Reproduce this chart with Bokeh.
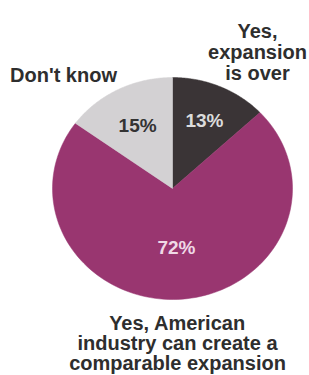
import numpy as np
from bokeh.plotting import figure
from bokeh.models import Range1d, ColumnDataSource
from bokeh.core.properties import value
from bokeh.embed import file_html
from bokeh.resources import INLINE

# ---- data ----
categories = ["Yes, expansion is over",
              "Yes, American industry can create a comparable expansion",
              "Don't know"]
shares = [13, 72, 15]
pct_labels = ["13%", "72%", "15%"]
label_lines = [["Yes,", "expansion", "is over"],
               ["Yes, American", "industry can create a", "comparable expansion"],
               ["Don't know"]]

# ---- style / layout ----
slice_colors = ["#3a3436", "#993670", "#d3d1d3"]
pct_colors = ["#dcdcdc", "#efd9e6", "#333333"]
pct_radius = [0.67, 0.53, 0.64]
W, H = 309, 375
cx, cy = 172, H - 188
rx, ry = 120, 111
# category label anchors (centre x, first baseline y in page coords)
lab_x = [257, 177, 63]
lab_y0 = [30, 322, 74]
line_gaps = [21, 20, 21]

p = figure(width=W, height=H, output_backend="svg", toolbar_location=None,
           x_range=Range1d(0, W), y_range=Range1d(0, H),
           min_border=0, background_fill_color="white", border_fill_color="white")
p.axis.visible = False
p.grid.visible = False
p.outline_line_color = None

fr = np.array(shares, dtype=float) / sum(shares)
ends = np.pi / 2 - 2 * np.pi * np.cumsum(fr)
starts = np.concatenate([[np.pi / 2], ends[:-1]])

xs, ys, tx, ty = [], [], [], []
for s, e, rr in zip(starts, ends, pct_radius):
    t = np.linspace(s, e, 120)
    xs.append(np.concatenate([[cx], cx + rx * np.cos(t)]).tolist())
    ys.append(np.concatenate([[cy], cy + ry * np.sin(t)]).tolist())
    m = (s + e) / 2
    tx.append(cx + rr * rx * np.cos(m))
    ty.append(cy + rr * ry * np.sin(m))

src = ColumnDataSource(dict(xs=xs, ys=ys, color=slice_colors, cat=categories))
p.patches("xs", "ys", source=src, fill_color="color", line_color="color", line_width=0.5)

p.text(x=tx, y=ty, text=pct_labels, text_color=pct_colors,
       text_font=value("Liberation Sans"), text_font_size="19px",
       text_font_style="bold",
       text_align="center", text_baseline="middle")

lx, ly, lt = [], [], []
for lines, x0, y0, g in zip(label_lines, lab_x, lab_y0, line_gaps):
    for i, ln in enumerate(lines):
        lx.append(x0)
        ly.append(H - (y0 + i * g))
        lt.append(ln)
p.text(x=lx, y=ly, text=lt, text_color="#2e2e2e",
       text_font=value("Liberation Sans"), text_font_size="20px",
       text_font_style="bold", text_align="center", text_baseline="alphabetic")

open("out.html", "w").write(file_html(p, INLINE))
